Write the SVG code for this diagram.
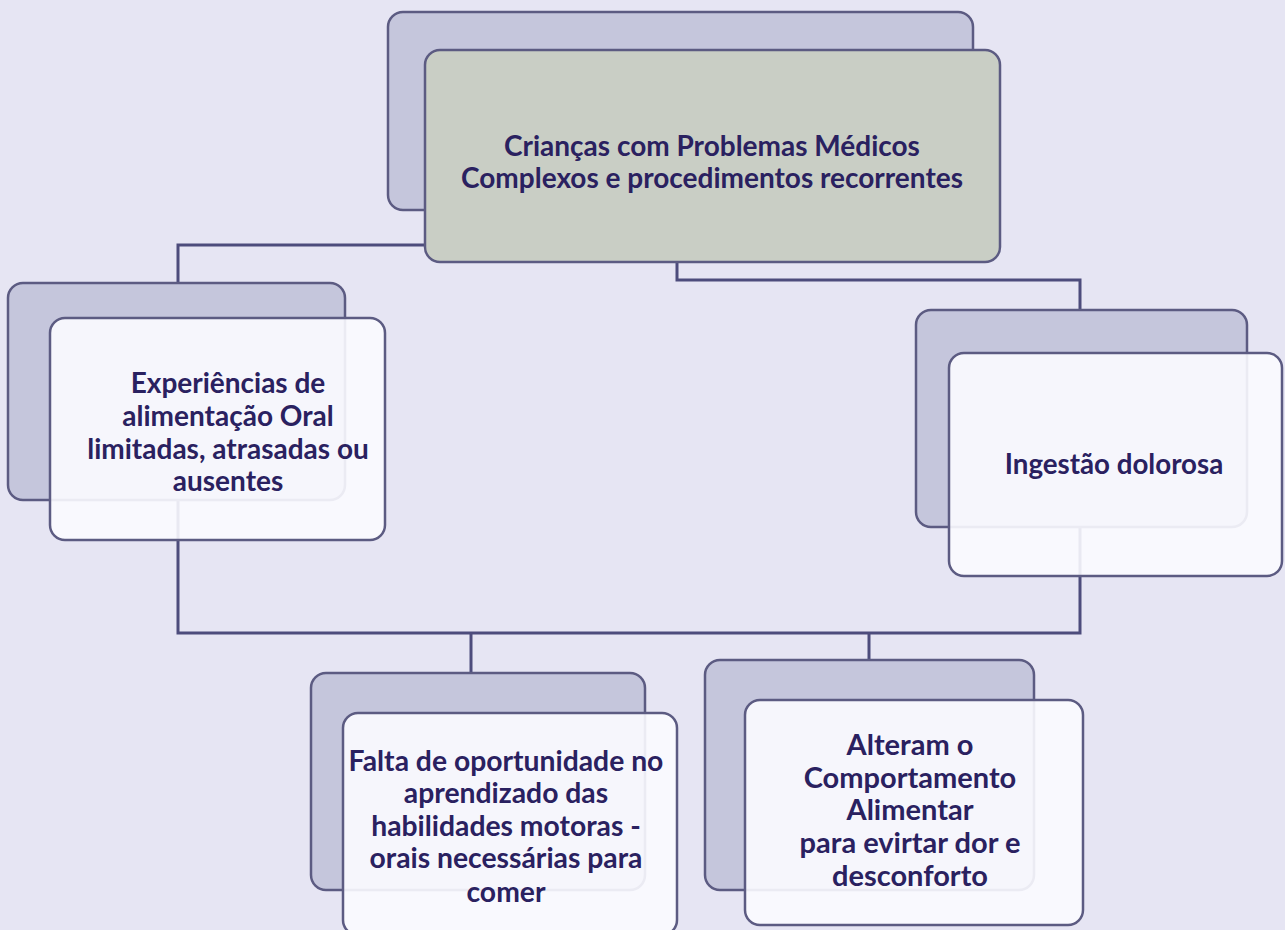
<svg xmlns="http://www.w3.org/2000/svg" width="1285" height="930" viewBox="0 0 1285 930">
<style>
.bg{fill:#e6e5f3}
.back{fill:#c5c6dc;stroke:#5c5b82;stroke-width:2.5}
.front{fill:#fbfbff;fill-opacity:0.9;stroke:#5c5b82;stroke-width:2.5}
.frontg{fill:#c9cec5;stroke:#5c5b82;stroke-width:2.5}
.conn{fill:none;stroke:#4d4c7c;stroke-width:3}
text{font-family:Lato,"Open Sans","Liberation Sans",sans-serif;font-weight:bold;fill:#2a2160;text-anchor:middle}
</style>
<rect class="bg" x="0" y="0" width="1285" height="930"/>
<g id="connectors">
<path class="conn" d="M425 245 H178 V283"/>
<path class="conn" d="M677 262 V280 H1080 V310"/>
<path class="conn" d="M178 500 V633 H1080 V527"/>
<path class="conn" d="M471 633 V673"/>
<path class="conn" d="M869 633 V660"/>
</g>
<g id="n1" font-size="28">
<rect class="back" x="388" y="12" width="585" height="198" rx="15"/>
<rect class="frontg" x="425" y="50" width="575" height="212" rx="15"/>
<text x="712" y="156">Crianças com Problemas Médicos</text>
<text x="712" y="188">Complexos e procedimentos recorrentes</text>
</g>
<g id="n2" font-size="28">
<rect class="back" x="8" y="283" width="337" height="217" rx="15"/>
<rect class="front" x="50" y="318" width="335" height="222" rx="15"/>
<text x="228" y="393">Experiências de</text>
<text x="228" y="426">alimentação Oral</text>
<text x="228" y="459">limitadas, atrasadas ou</text>
<text x="228" y="491">ausentes</text>
</g>
<g id="n3" font-size="27.7">
<rect class="back" x="916" y="310" width="331" height="217" rx="15"/>
<rect class="front" x="949" y="353" width="333" height="223" rx="15"/>
<text x="1114" y="474">Ingestão dolorosa</text>
</g>
<g id="n4" font-size="28.3">
<rect class="back" x="311" y="673" width="334" height="217" rx="15"/>
<rect class="front" x="343" y="713" width="334" height="222" rx="15"/>
<text x="506" y="771">Falta de oportunidade no</text>
<text x="506" y="803">aprendizado das</text>
<text x="506" y="836">habilidades motoras -</text>
<text x="506" y="868">orais necessárias para</text>
<text x="506" y="902">comer</text>
</g>
<g id="n5" font-size="29">
<rect class="back" x="705" y="660" width="329" height="230" rx="15"/>
<rect class="front" x="745" y="700" width="338" height="225" rx="15"/>
<text x="910" y="755">Alteram o</text>
<text x="910" y="788">Comportamento</text>
<text x="910" y="820">Alimentar</text>
<text x="910" y="853">para evirtar dor e</text>
<text x="910" y="886">desconforto</text>
</g>
</svg>
